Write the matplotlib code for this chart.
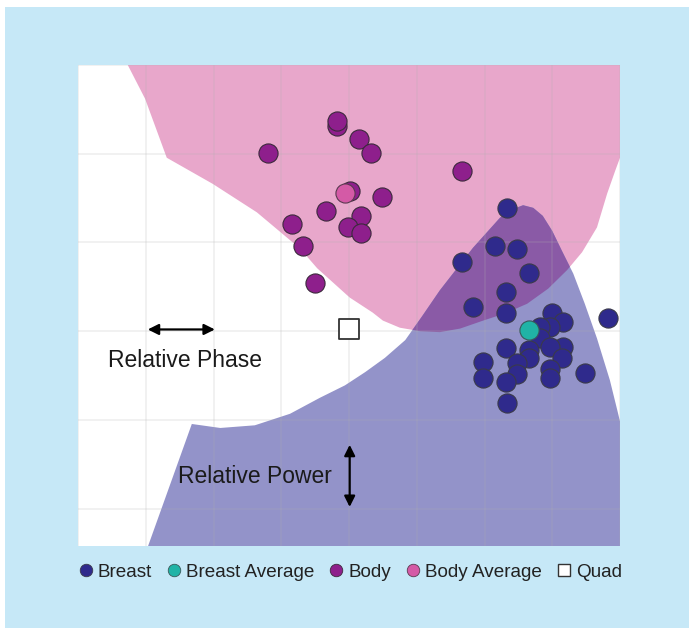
import matplotlib.pyplot as plt
from matplotlib.patches import Polygon, Rectangle
from matplotlib.lines import Line2D

plt.rcParams['font.family'] = ['Liberation Sans', 'DejaVu Sans']

# class regions (x = relative phase, y = relative power, arbitrary units)
body_region_x = [0.60, 8.20, 8.20, 8.00, 7.93, 7.81, 7.66, 7.44, 7.22, 6.94, 6.63, 6.30, 5.98,
                 5.64, 5.34, 5.05, 4.75, 4.50, 4.35, 4.01, 3.53, 3.28, 2.64, 1.99, 1.31, 0.99]
body_region_y = [5.20, 5.20, 3.955, 3.955, 3.81, 3.55, 3.17, 2.89, 2.69, 2.48, 2.31, 2.20, 2.12,
                 2.03, 1.99, 2.00, 2.04, 2.12, 2.21, 2.38, 2.71, 2.93, 3.34, 3.66, 3.955, 4.62]

breast_region_x = [0.95, 1.68, 2.10, 2.61, 3.13, 3.57, 3.94, 4.24, 4.53, 4.83, 5.08, 5.34, 5.83,
                   6.23, 6.40, 6.57, 6.72, 6.86, 7.00, 7.14, 7.31, 7.48, 7.66, 7.85, 7.96, 8.03,
                   8.20, 8.20]
breast_region_y = [-0.60, 0.955, 0.91, 0.94, 1.07, 1.25, 1.39, 1.54, 1.70, 1.90, 2.17, 2.46, 2.94,
                   3.28, 3.37, 3.42, 3.39, 3.30, 3.13, 2.91, 2.65, 2.31, 1.92, 1.45, 1.11, 0.89,
                   0.89, -0.60]

# samples
breast_x = [6.33, 6.155, 6.48, 5.67, 6.66, 6.32, 5.83, 6.32, 7.82, 7.00, 7.16, 6.97, 6.82, 6.82,
            7.16, 6.97, 6.66, 6.32, 6.66, 6.48, 7.14, 5.98, 5.98, 6.48, 6.97, 6.97, 7.48, 6.32, 6.33]
breast_y = [3.39, 2.955, 2.93, 2.775, 2.66, 2.44, 2.27, 2.20, 2.15, 2.20, 2.10, 2.045, 2.045, 1.92,
            1.82, 1.82, 1.79, 1.81, 1.70, 1.64, 1.70, 1.65, 1.47, 1.52, 1.58, 1.47, 1.53, 1.43, 1.19]
breast_avg = (6.66, 2.01)

body_x = [3.82, 3.82, 4.15, 4.32, 2.80, 5.67, 4.01, 4.49, 3.66, 4.18, 3.16, 3.99, 4.18, 3.32, 3.50]
body_y = [4.31, 4.37, 4.17, 4.01, 4.01, 3.80, 3.58, 3.51, 3.35, 3.30, 3.21, 3.17, 3.11, 2.955, 2.54]
body_avg = (3.94, 3.56)

quad = (4.0, 2.02)

c_bg = '#c6e8f7'
c_pink = '#e8a7cb'
c_blue = '#9393c9'
c_overlap = '#8a5aa6'
c_breast = '#2f2a8c'
c_breast_avg = '#20b3a6'
c_body = '#8e1f8c'
c_body_avg = '#d45aa6'

fig = plt.figure(figsize=(6.89, 6.28), dpi=100)
fig.patch.set_facecolor('white')
fig.patches.append(Rectangle((5 / 689, 0), 1, (628 - 7) / 628, transform=fig.transFigure,
                             facecolor=c_bg, edgecolor='none', zorder=-10))

ax = fig.add_axes([78 / 689, (628 - 546) / 628, (620 - 78) / 689, (546 - 65) / 628])
ax.set_facecolor('white')

pink = Polygon(list(zip(body_region_x, body_region_y)), closed=True,
               facecolor=c_pink, edgecolor='none', zorder=1)
ax.add_patch(pink)
blue = Polygon(list(zip(breast_region_x, breast_region_y)), closed=True,
               facecolor=c_blue, edgecolor='none', zorder=1.1)
ax.add_patch(blue)
overlap = Polygon(list(zip(breast_region_x, breast_region_y)), closed=True,
                  facecolor=c_overlap, edgecolor='none', zorder=1.2)
ax.add_patch(overlap)
overlap.set_clip_path(pink)

ax.set_xlim(0, 8)
ax.set_ylim(-0.42, 5.0)
ax.set_xticks(range(0, 9))
ax.set_yticks(range(0, 6))
ax.grid(True, color='#b0b0b0', alpha=0.18, lw=1.3)
ax.set_axisbelow(False)
ax.tick_params(length=0, labelbottom=False, labelleft=False)
for s in ax.spines.values():
    s.set_visible(False)

ms = 190
ax.scatter(body_x, body_y, s=ms, c=c_body, edgecolors='#3c2a3c', linewidths=0.8, zorder=3)
ax.scatter([body_avg[0]], [body_avg[1]], s=ms, c=c_body_avg, edgecolors='#5a3a50', linewidths=0.8, zorder=3.1)
ax.scatter(breast_x, breast_y, s=ms, c=c_breast, edgecolors='#3a3a4a', linewidths=0.8, zorder=3)
ax.scatter([breast_avg[0]], [breast_avg[1]], s=ms, c=c_breast_avg, edgecolors='#3a5a5a', linewidths=0.8, zorder=3.1)
ax.scatter([quad[0]], [quad[1]], s=190, marker='s', facecolors='white', edgecolors='#333333',
           linewidths=1.3, zorder=3)

# axis hints
arrow = dict(arrowstyle='<|-|>', color='black', lw=1.6, mutation_scale=16, shrinkA=0, shrinkB=0)
ax.annotate('', xy=(1.03, 2.02), xytext=(2.02, 2.02), arrowprops=arrow, zorder=4)
ax.text(1.58, 1.67, 'Relative Phase', ha='center', va='center', fontsize=16.5, color='#1a1a1a', zorder=4)
ax.annotate('', xy=(4.01, 0.72), xytext=(4.01, 0.02), arrowprops=arrow, zorder=4)
ax.text(2.61, 0.36, 'Relative Power', ha='center', va='center', fontsize=16.5, color='#1a1a1a', zorder=4)

handles = [
    Line2D([], [], ls='', marker='o', ms=9, mfc=c_breast, mec='#3a3a4a', mew=0.6, label='Breast'),
    Line2D([], [], ls='', marker='o', ms=9, mfc=c_breast_avg, mec='#3a5a5a', mew=0.6, label='Breast Average'),
    Line2D([], [], ls='', marker='o', ms=9, mfc=c_body, mec='#3c2a3c', mew=0.6, label='Body'),
    Line2D([], [], ls='', marker='o', ms=9, mfc=c_body_avg, mec='#5a3a50', mew=0.6, label='Body Average'),
    Line2D([], [], ls='', marker='s', ms=9, mfc='white', mec='#333333', mew=1.0, label='Quad'),
]
leg = fig.legend(handles=handles, loc='center left', bbox_to_anchor=(79 / 689, (628 - 572) / 628),
                 ncol=5, frameon=False, fontsize=13.6, handlelength=0.7, handletextpad=0.3,
                 columnspacing=0.8, borderpad=0, borderaxespad=0)
for t in leg.get_texts():
    t.set_color('#222222')

fig.savefig('out.png', dpi=100, facecolor=fig.get_facecolor())
